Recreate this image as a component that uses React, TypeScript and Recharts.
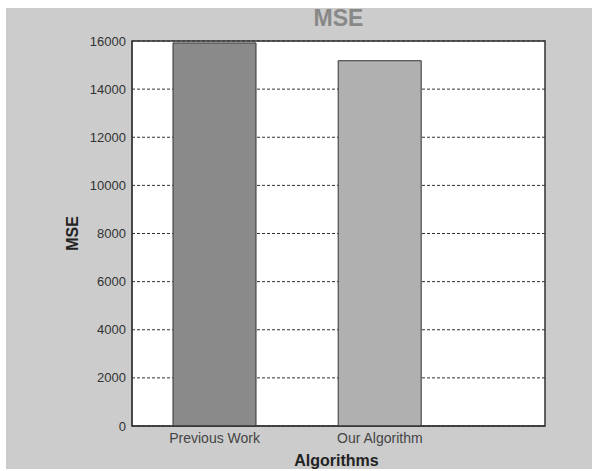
import React from "react";
import {
  BarChart,
  Bar,
  Cell,
  XAxis,
  YAxis,
  CartesianGrid,
  ReferenceArea,
  Label,
} from "recharts";

const ALGORITHMS = ["Previous Work", "Our Algorithm"];
const MSE_VALUES = [15920, 15180];
const BAR_COLORS = ["#8a8a8a", "#b0b0b0"];
const Y_TICKS = [0, 2000, 4000, 6000, 8000, 10000, 12000, 14000, 16000];

const data = ALGORITHMS.map((name, i) => ({ x: i + 1, name, mse: MSE_VALUES[i] }));

const FONT = "'Liberation Sans', Arial, sans-serif";

function YLabel(props: any) {
  const vb = props.viewBox;
  const cx = vb.x + 66;
  const cy = vb.y + vb.height / 2;
  return (
    <text
      x={cx}
      y={cy}
      transform={`rotate(-90, ${cx}, ${cy})`}
      textAnchor="middle"
      dominantBaseline="central"
      fontFamily={FONT}
      fontWeight="bold"
      fontSize={16}
      fill="#222"
    >
      MSE
    </text>
  );
}

function XLabel(props: any) {
  const vb = props.viewBox;
  return (
    <text
      x={vb.x + vb.width / 2 - 2}
      y={vb.y + 40}
      textAnchor="middle"
      fontFamily={FONT}
      fontWeight="bold"
      fontSize={16}
      fill="#222"
    >
      Algorithms
    </text>
  );
}

export default function App() {
  return (
    <div
      style={{
        position: "absolute",
        left: 6,
        top: 8,
        width: 586,
        height: 461,
        background: "#cccccc",
        fontFamily: FONT,
      }}
    >
      <div
        style={{
          position: "absolute",
          left: 126,
          width: 413,
          top: -1,
          textAlign: "center",
          fontSize: 23,
          lineHeight: "23px",
          fontWeight: "bold",
          color: "#888888",
        }}
      >
        MSE
      </div>
      <BarChart
        width={586}
        height={461}
        data={data}
        margin={{ top: 33, right: 47, left: 0, bottom: 0 }}
      >
        <CartesianGrid
          horizontal
          vertical={false}
          fill="#ffffff"
          stroke="#333"
          strokeDasharray="3 2"
        />
        <XAxis
          dataKey="x"
          type="number"
          domain={[0.5, 3]}
          ticks={[1, 2]}
          allowDataOverflow
          tickFormatter={(v: number) => ALGORITHMS[v - 1] ?? ""}
          height={43}
          tickLine={false}
          tickSize={3}
          tickMargin={4}
          axisLine={{ stroke: "#333" }}
          tick={{ fill: "#444", fontSize: 14, fontFamily: FONT }}
        >
          <Label content={XLabel} />
        </XAxis>
        <YAxis
          domain={[0, 16000]}
          ticks={Y_TICKS}
          width={126}
          tickLine={false}
          tickSize={3}
          tickMargin={3}
          axisLine={{ stroke: "#333" }}
          tick={{ fill: "#333", fontSize: 13, fontFamily: FONT }}
        >
          <Label content={YLabel} />
        </YAxis>
        <ReferenceArea
          x1={0.5}
          x2={3}
          y1={0}
          y2={16000}
          fill="none"
          stroke="#333"
          strokeWidth={1.5}
          ifOverflow="visible"
        />
        <Bar dataKey="mse" barSize={83} stroke="#333" strokeWidth={1} isAnimationActive={false}>
          {data.map((_, i) => (
            <Cell key={i} fill={BAR_COLORS[i]} />
          ))}
        </Bar>
      </BarChart>
    </div>
  );
}
